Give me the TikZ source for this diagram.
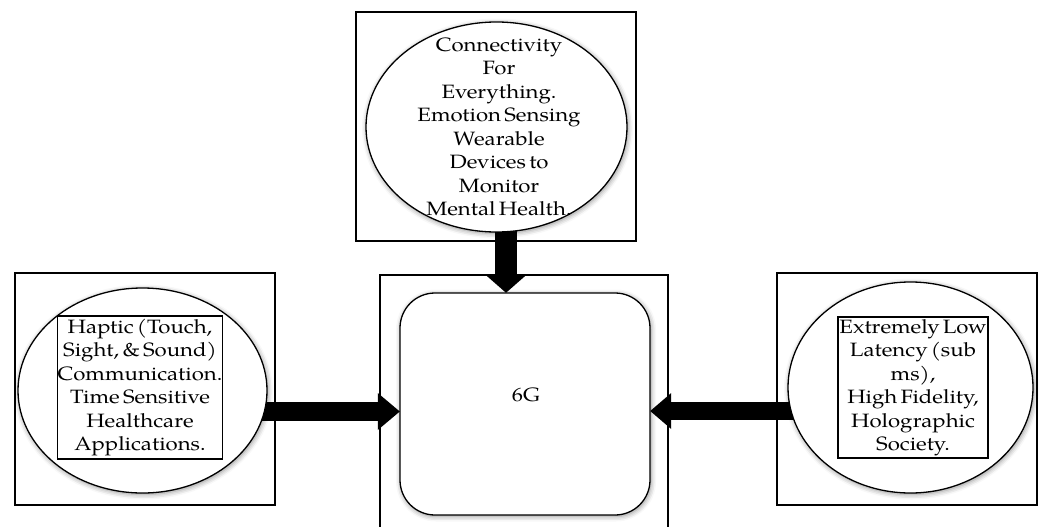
\documentclass[tikz,border=0pt]{standalone}
\usepackage{fontspec}
\setmainfont{texgyrepagella-regular.otf}[FakeStretch=1.15]
\usetikzlibrary{arrows.meta,shapes.geometric,shadows.blur}
\newcommand\lblfont{\fontsize{19.3}{23.5}\selectfont\spaceskip=0.17em plus 0.05em\relax}
\tikzset{
  frame/.style={draw, line width=1.3pt, inner sep=0pt},
  bubble/.style={ellipse, draw, line width=1.3pt, fill=white, inner sep=0pt,
    blur shadow={shadow xshift=1pt, shadow yshift=-1.5pt, shadow blur radius=5pt, shadow opacity=45}},
  lbl/.style={inner sep=0pt, align=center, font=\lblfont},
  txtbox/.style={lbl, draw, line width=1.3pt},
  core/.style={draw, line width=1.3pt, fill=white, rounded corners=35pt, inner sep=0pt,
    blur shadow={shadow xshift=1pt, shadow yshift=-1.5pt, shadow blur radius=5pt, shadow opacity=45}},
  bigarrow/.style n args={3}{line width=#1pt, -{Triangle[width=#2pt,length=#3pt,line width=0pt]}}
}
\begin{document}
\begin{tikzpicture}[x=1pt,y=-1pt]
\useasboundingbox (0,0) rectangle (1041,527);
\clip (0,0) rectangle (1041,527);
% outer frames
\node[frame, minimum width=280pt, minimum height=229pt] (topframe) at (496,126.5) {};
\node[frame, minimum width=260pt, minimum height=232pt] (leftframe) at (145,389) {};
\node[frame, minimum width=260pt, minimum height=232pt] (rightframe) at (907,389) {};
\node[frame, minimum width=288pt, minimum height=270pt] (midframe) at (524,410) {};
% coordinates for ellipse / core positions
\coordinate (topc) at (496.5,127);
\coordinate (leftc) at (142.5,390.5);
\coordinate (rightc) at (910.5,387.5);
\node[inner sep=0pt, minimum width=250pt, minimum height=222pt] (corepos) at (525,404) {};
\node[ellipse, inner sep=0pt, minimum width=261pt, minimum height=210pt] (topell) at (topc) {};
\node[ellipse, inner sep=0pt, minimum width=249pt, minimum height=205pt] (leftell) at (leftc) {};
\node[ellipse, inner sep=0pt, minimum width=245pt, minimum height=211pt] (rightell) at (rightc) {};
% arrows
\draw[bigarrow={22}{41}{18}] ([xshift=9.5pt,yshift=8pt]topell.south) -- ([xshift=-19pt]corepos.north);
\draw[bigarrow={19}{37}{22}] ([xshift=-10pt,yshift=-21pt]leftell.east) -- ([yshift=-7.5pt]corepos.west);
\draw[bigarrow={18.5}{36}{21}] ([xshift=10pt,yshift=-23.5pt]rightell.west) -- ([yshift=-7pt]corepos.east);
% ellipses
\node[bubble, minimum width=261pt, minimum height=210pt] (topbubble) at (topc) {};
\node[bubble, minimum width=249pt, minimum height=205pt] (leftbubble) at (leftc) {};
\node[bubble, minimum width=245pt, minimum height=211pt] (rightbubble) at (rightc) {};
% core
\node[core, minimum width=250pt, minimum height=222pt] (core) at (525,404) {};
\node[lbl] (sixg) at (526,395) {6G};
% texts
\node[lbl] (toptext) at (499,127) {Connectivity\\For\\Everything.\\Emotion Sensing\\Wearable\\Devices to\\Monitor\\Mental Health.};
\node[txtbox, minimum width=164pt, minimum height=143pt] (lefttext) at (140,387.5) {Haptic (Touch,\\Sight, \& Sound)\\Communication.\\Time Sensitive\\Healthcare\\Applications.};
\node[txtbox, minimum width=150pt, minimum height=141pt] (righttext) at (913,387.5) {Extremely Low\\Latency (sub\\ms),\\High Fidelity,\\Holographic\\Society.};
\end{tikzpicture}
\end{document}
